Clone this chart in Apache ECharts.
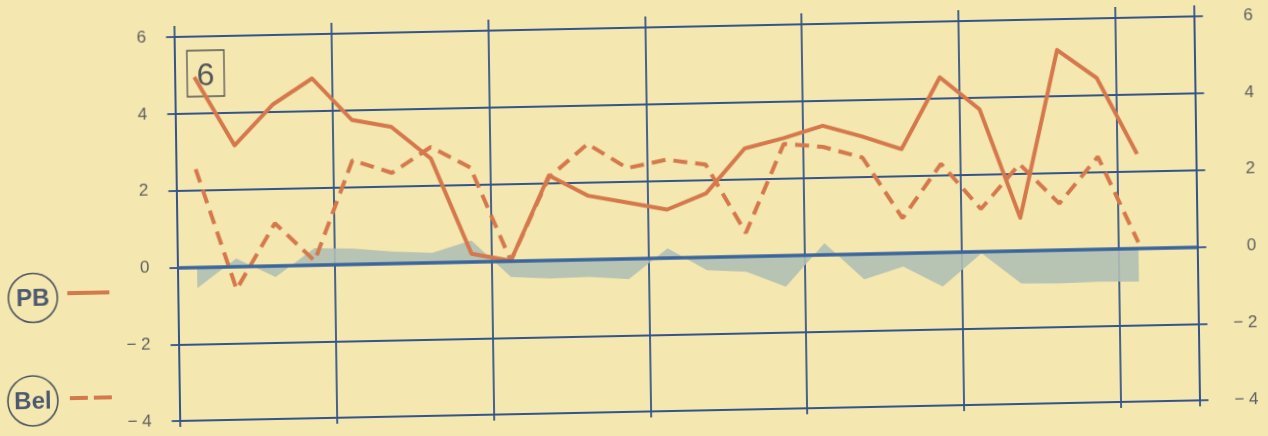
<!DOCTYPE html>
<html><head><meta charset="utf-8">
<script src="https://cdn.jsdelivr.net/npm/echarts@6/dist/echarts.min.js"></script>
<style>
html,body{margin:0;padding:0;background:#f4e7b0;overflow:hidden;width:1268px;height:436px;}
#wrap{position:absolute;left:0;top:0;width:1268px;height:436px;transform-origin:177.5px 267.5px;transform:matrix(1,-0.0202,0.0146,1,0,0);}
#chart{width:1268px;height:436px;}
</style></head><body>
<div id="wrap"><div id="chart"></div></div>
<script>
// quarters (26 slots, the last one is empty)
const quarters = ['Q1','Q2','Q3','Q4','Q5','Q6','Q7','Q8','Q9','Q10','Q11','Q12','Q13',
                  'Q14','Q15','Q16','Q17','Q18','Q19','Q20','Q21','Q22','Q23','Q24','Q25','Q26'];
const pbValues  = [4.95, 3.15, 4.2, 4.85, 3.75, 3.55, 2.7, 0.2, 0.0, 2.2, 1.65, 1.45, 1.25,
                   1.65, 2.8, 3.05, 3.35, 3.05, 2.7, 4.55, 3.7, 0.85, 5.2, 4.45, 2.45];
const belValues = [2.55, -0.6, 1.1, 0.1, 2.7, 2.35, 3.0, 2.45, 0.0, 2.15, 3.0, 2.35, 2.55,
                   2.4, 0.6, 2.9, 2.8, 2.5, 0.9, 2.3, 1.1, 2.25, 1.2, 2.4, 0.15];
const diffValues = [-0.55, 0.2, -0.3, 0.43, 0.4, 0.3, 0.25, 0.55, -0.42, -0.48, -0.46, -0.54, 0.24,
                    -0.35, -0.41, -0.82, 0.29, -0.67, -0.36, -0.9, -0.05, -0.86, -0.88, -0.85, -0.87];
const yMin = -4, yMax = 6, yStep = 2;
const panelLabel = '6';
const legendNames = ['PB', 'Bel'];

const GRID = '#34548a', ZERO = '#3a659c', ORANGE = '#d5784c', SHADE = '#b0bfb3',
      TEXT = '#5e5e5e', LEG = '#4b5870', FONT = '"Liberation Sans", Arial, sans-serif';

const fmt = v => v < 0 ? '\u2212 ' + Math.abs(v) : String(v);
const yearMark = i => i % 4 === 0;

const chart = echarts.init(document.getElementById('chart'), null, {renderer: 'canvas'});
chart.setOption({
  animation: false,
  backgroundColor: 'transparent',
  grid: {left: 177.5, top: 37.1, width: 1020, height: 384},
  xAxis: [{
    type: 'category', data: quarters, boundaryGap: true, position: 'bottom',
    axisLine: {show: false, onZero: false},
    axisTick: {show: true, inside: false, length: 6, interval: yearMark, lineStyle: {color: GRID, width: 1.8}},
    axisLabel: {show: false},
    splitLine: {show: true, interval: yearMark, lineStyle: {color: GRID, width: 1.8}}
  }, {
    type: 'category', data: quarters, boundaryGap: true, position: 'top',
    axisLine: {show: false, onZero: false},
    axisTick: {show: true, inside: false, length: 11, interval: yearMark, lineStyle: {color: GRID, width: 1.8}},
    axisLabel: {show: false},
    splitLine: {show: false}
  }],
  yAxis: [{
    type: 'value', min: yMin, max: yMax, interval: yStep, position: 'left',
    axisLine: {show: true, lineStyle: {color: GRID, width: 1.8}},
    axisTick: {show: true, inside: false, length: 8, lineStyle: {color: GRID, width: 1.8}},
    axisLabel: {show: true, margin: 28, formatter: fmt, color: TEXT, fontSize: 17, fontFamily: FONT},
    splitLine: {show: true, lineStyle: {color: GRID, width: 1.8}}
  }, {
    type: 'value', min: yMin, max: yMax, interval: yStep, position: 'right',
    axisLine: {show: true, lineStyle: {color: GRID, width: 1.8}},
    axisTick: {show: true, inside: false, length: 9, lineStyle: {color: GRID, width: 1.8}},
    axisLabel: {show: true, margin: 59, align: 'right', formatter: fmt, color: TEXT, fontSize: 17, fontFamily: FONT},
    splitLine: {show: false}
  }],
  series: [{
    type: 'line', data: diffValues, xAxisIndex: 0, yAxisIndex: 0, symbol: 'none', z: 2,
    lineStyle: {width: 0}, areaStyle: {color: SHADE, opacity: 0.9},
    markLine: {silent: true, symbol: 'none', label: {show: false},
      lineStyle: {color: ZERO, width: 3.5, type: 'solid'}, data: [{yAxis: 0}]}
  }, {
    name: legendNames[0], type: 'line', data: pbValues, symbol: 'none', z: 4,
    lineStyle: {color: ORANGE, width: 4, join: 'round'}
  }, {
    name: legendNames[1], type: 'line', data: belValues, symbol: 'none', z: 4,
    lineStyle: {color: ORANGE, width: 4, type: [14, 8]}
  }],
  graphic: [
    {type: 'circle', shape: {cx: 32.5, cy: 295, r: 24.5}, style: {fill: 'none', stroke: '#4d5560', lineWidth: 1.6}},
    {type: 'text', style: {text: legendNames[0], x: 32.5, y: 296, align: 'center', verticalAlign: 'middle',
      font: 'bold 24px ' + FONT, fill: LEG}},
    {type: 'line', shape: {x1: 67, y1: 291, x2: 109, y2: 291}, style: {stroke: ORANGE, lineWidth: 4}},
    {type: 'circle', shape: {cx: 31, cy: 398, r: 25}, style: {fill: 'none', stroke: '#4d5560', lineWidth: 1.6}},
    {type: 'text', style: {text: legendNames[1], x: 31, y: 399, align: 'center', verticalAlign: 'middle',
      font: 'bold 24px ' + FONT, fill: LEG}},
    {type: 'line', shape: {x1: 68, y1: 396, x2: 110, y2: 396}, style: {stroke: ORANGE, lineWidth: 4, lineDash: [18, 6]}},
    {type: 'rect', shape: {x: 190, y: 51, width: 37, height: 46}, style: {fill: 'none', stroke: '#555', lineWidth: 1.3}},
    {type: 'text', style: {text: panelLabel, x: 208.5, y: 77, align: 'center', verticalAlign: 'middle',
      font: '32px ' + FONT, fill: '#555'}}
  ]
});
</script>
</body></html>
